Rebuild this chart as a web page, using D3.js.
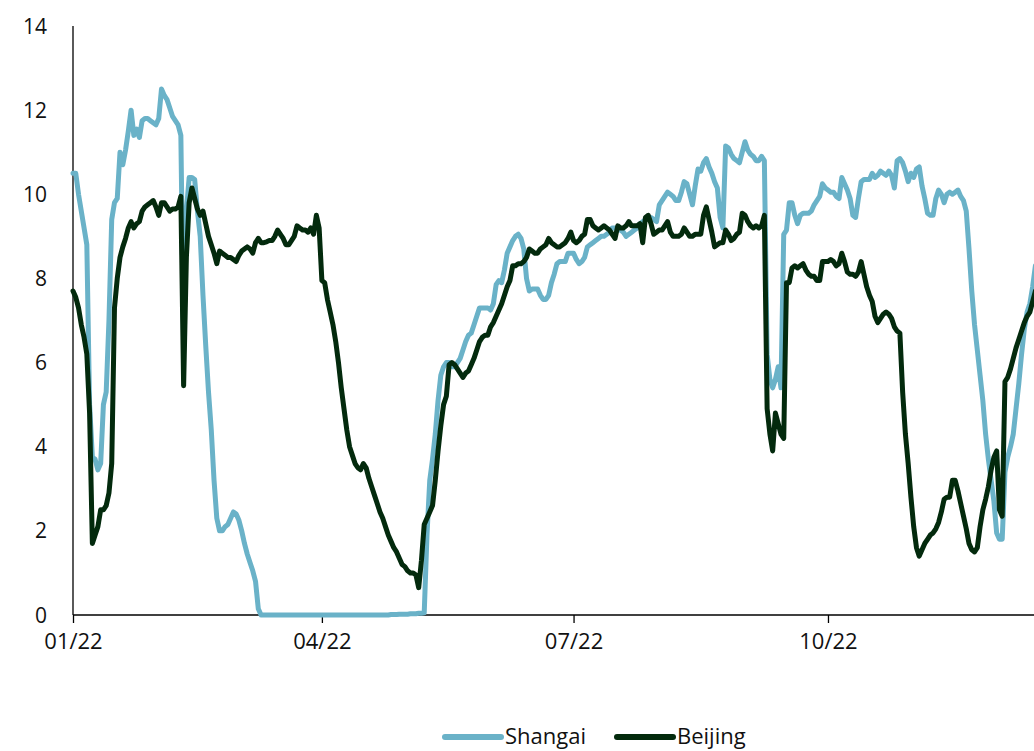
<!DOCTYPE html>
<html><head><meta charset="utf-8">
<script src="https://cdn.jsdelivr.net/npm/d3@7"></script>
<style>body{margin:0;background:#fff}svg text{font-family:"Open Sans",sans-serif;fill:#111}</style>
</head><body><svg id="chart" width="1034" height="751"></svg>
<script>
const seriesNames = ["Shangai", "Beijing"];
const seriesColors = ["#6ab2c8", "#032a0d"];
const startDate = "2022-01-01";
const domainEnd = "2023-01-01";
const yTicks = [0, 2, 4, 6, 8, 10, 12, 14];
const xTickDates = ["2022-01-01", "2022-04-01", "2022-07-01", "2022-10-01"];
const xTickLabels = ["01/22", "04/22", "07/22", "10/22"];

// daily values from 2022-01-01
const shanghai = [
10.5,10.5,10.0,9.6,9.2,8.8,5.0,3.75,3.7,3.45,
3.6,5.0,5.3,7.0,9.4,9.8,9.9,11.0,10.7,11.05,
11.5,12.0,11.4,11.55,11.35,11.75,11.8,11.8,11.75,11.7,
11.65,11.8,12.5,12.35,12.25,12.05,11.85,11.75,11.65,11.4,
6.5,9.6,10.4,10.4,10.35,9.6,9.0,7.6,6.4,5.3,
4.4,3.2,2.3,2.0,2.0,2.1,2.15,2.3,2.45,2.4,
2.25,2.0,1.7,1.45,1.25,1.05,0.8,0.15,0,0,
0,0,0,0,0,0,0,0,0,0,
0,0,0,0,0,0,0,0,0,0,
0,0,0,0,0,0,0,0,0,0,
0,0,0,0,0,0,0,0,0,0,
0,0,0,0,0,0.01,0.01,0.01,0.02,0.02,
0.02,0.02,0.03,0.03,0.03,0.04,0.04,0.05,1.9,3.2,
3.7,4.3,5.1,5.7,5.9,6.0,6.0,5.9,5.9,6.0,
6.1,6.3,6.5,6.65,6.7,6.9,7.1,7.3,7.3,7.3,
7.3,7.25,7.4,7.85,7.95,7.9,8.2,8.6,8.75,8.9,
9.0,9.05,8.95,8.7,8.0,7.7,7.75,7.75,7.75,7.6,
7.5,7.5,7.6,7.9,8.1,8.35,8.4,8.4,8.4,8.6,
8.6,8.6,8.45,8.35,8.4,8.5,8.75,8.8,8.85,8.9,
8.95,9.0,9.0,9.05,9.1,9.2,9.2,9.15,9.15,9.1,
9.0,9.05,9.1,9.15,9.2,9.3,9.35,9.4,9.45,9.45,
9.4,9.35,9.75,9.85,9.95,10.05,10.0,9.95,9.85,9.85,
10.05,10.3,10.25,10.0,9.75,10.2,10.6,10.55,10.75,10.85,
10.65,10.5,10.3,10.15,9.45,9.2,11.15,11.1,10.95,10.85,
10.8,10.75,11.0,11.25,11.05,10.95,10.9,10.8,10.8,10.9,
10.8,6.2,5.6,5.4,5.6,5.9,5.4,9.05,9.15,9.8,
9.8,9.5,9.3,9.5,9.55,9.55,9.55,9.6,9.75,9.85,
9.95,10.25,10.15,10.1,10.05,10.05,9.95,9.9,10.4,10.25,
10.1,9.9,9.5,9.45,9.9,10.3,10.35,10.35,10.35,10.5,
10.4,10.45,10.55,10.5,10.45,10.55,10.45,10.15,10.8,10.85,
10.75,10.55,10.3,10.5,10.4,10.6,10.65,10.2,9.9,9.55,
9.5,9.5,9.9,10.1,10.0,9.8,10.0,10.05,10.0,10.05,
10.1,9.95,9.85,9.6,8.7,7.7,6.9,6.3,5.7,5.1,
4.3,3.7,3.2,2.7,1.95,1.8,1.8,3.4,3.75,4.0,
4.3,4.9,5.5,6.2,6.8,7.2,7.4,7.8,8.3
];
const beijing = [
7.7,7.55,7.3,6.9,6.6,6.2,4.8,1.7,1.9,2.1,
2.5,2.5,2.6,2.9,3.6,7.3,8.0,8.5,8.75,8.95,
9.2,9.35,9.2,9.3,9.35,9.6,9.7,9.75,9.8,9.85,
9.7,9.5,9.8,9.8,9.7,9.6,9.65,9.65,9.7,9.95,
5.45,8.5,9.8,10.15,9.9,9.65,9.5,9.6,9.3,9.0,
8.8,8.6,8.35,8.65,8.6,8.55,8.5,8.5,8.45,8.4,
8.55,8.65,8.7,8.75,8.7,8.6,8.85,8.95,8.85,8.85,
8.87,8.9,8.9,9.0,9.15,9.05,8.95,8.8,8.8,8.9,
9.0,9.25,9.2,9.15,9.15,9.1,9.2,9.05,9.5,9.2,
7.95,7.9,7.5,7.2,6.9,6.5,6.0,5.4,4.9,4.4,
4.0,3.8,3.6,3.5,3.45,3.6,3.5,3.25,3.05,2.85,
2.65,2.45,2.3,2.1,1.9,1.75,1.6,1.5,1.35,1.2,
1.15,1.05,1.0,1.0,0.95,0.65,1.3,2.15,2.3,2.45,
2.6,3.2,3.9,4.5,5.0,5.2,5.95,6.0,5.95,5.85,
5.75,5.65,5.75,5.8,5.95,6.1,6.3,6.5,6.6,6.65,
6.65,6.85,6.95,7.1,7.25,7.4,7.6,7.8,7.95,8.3,
8.3,8.35,8.35,8.4,8.5,8.7,8.65,8.6,8.6,8.7,
8.75,8.8,8.95,8.85,8.8,8.75,8.75,8.8,8.85,8.95,
9.1,8.9,8.85,8.9,9.0,9.05,9.4,9.4,9.25,9.2,
9.15,9.2,9.25,9.2,9.15,9.05,8.95,9.25,9.2,9.2,
9.25,9.35,9.25,9.25,9.25,9.3,8.85,9.45,9.5,9.3,
9.05,9.1,9.15,9.15,9.25,9.35,9.1,9.0,9.0,9.0,
9.05,9.2,9.1,9.0,9.0,9.05,9.05,9.05,9.5,9.7,
9.4,9.1,8.75,8.8,8.85,8.85,9.15,9.05,8.9,8.95,
9.05,9.1,9.55,9.5,9.35,9.25,9.2,9.25,9.2,9.25,
9.5,4.9,4.3,3.9,4.8,4.55,4.3,4.2,7.9,7.9,
8.25,8.3,8.25,8.3,8.35,8.2,8.1,8.05,8.05,7.95,
7.95,8.4,8.4,8.4,8.45,8.4,8.3,8.35,8.6,8.4,
8.15,8.1,8.1,8.05,8.15,8.4,8.1,7.8,7.6,7.45,
7.1,6.95,7.05,7.15,7.2,7.15,7.05,6.85,6.75,6.7,
5.3,4.3,3.6,2.8,2.1,1.6,1.4,1.55,1.7,1.8,
1.9,1.95,2.05,2.2,2.45,2.75,2.8,2.8,3.2,3.2,
2.95,2.65,2.35,2.05,1.7,1.55,1.5,1.6,2.1,2.5,
2.75,3.05,3.45,3.75,3.9,2.5,2.35,5.55,5.65,5.85,
6.1,6.35,6.55,6.75,6.95,7.1,7.2,7.45,7.7
];

const svg = d3.select("#chart");
const parse = d3.utcParse("%Y-%m-%d");
const t0 = parse(startDate);
const x = d3.scaleUtc().domain([t0, parse(domainEnd)]).range([73, 1082.4]);
const y = d3.scaleLinear().domain([0, 14]).range([615, 26]);

// y axis line and labels
svg.append("line").attr("x1", 73).attr("x2", 73).attr("y1", y(14)).attr("y2", y(0))
  .attr("stroke", "#000").attr("stroke-width", 1.3);
svg.selectAll(".ylab").data(yTicks).join("text")
  .attr("x", 47).attr("y", d => y(d)).attr("dy", "0.36em")
  .attr("text-anchor", "end").attr("font-size", 21).text(d => d);

// x axis
const xAxis = d3.axisBottom(x)
  .tickValues(xTickDates.map(parse))
  .tickFormat((d, i) => xTickLabels[i])
  .tickSize(8).tickSizeOuter(0).tickPadding(10);
const gx = svg.append("g").attr("transform", `translate(0,${y(0)})`).call(xAxis);
gx.select(".domain").attr("stroke", "#000").attr("stroke-width", 1.3).attr("d", "M73,0H1034");
gx.selectAll(".tick line").attr("stroke", "#000").attr("stroke-width", 1.3);
gx.selectAll(".tick text").attr("font-size", 22).attr("fill", "#111").attr("font-family", '"Open Sans",sans-serif');

// lines
const series = [shanghai, beijing];
const line = d3.line()
  .x((d, i) => x(d3.utcDay.offset(t0, i)))
  .y(d => y(d))
  .curve(d3.curveLinear);
series.forEach((vals, k) => {
  svg.append("path").datum(vals)
    .attr("fill", "none").attr("stroke", seriesColors[k])
    .attr("stroke-width", 5).attr("stroke-linejoin", "round").attr("stroke-linecap", "round")
    .attr("d", line);
});

// legend
const legendX = [445, 617];
seriesNames.forEach((name, k) => {
  const g = svg.append("g").attr("transform", `translate(${legendX[k]},737)`);
  g.append("line").attr("x1", 0).attr("x2", 56).attr("y1", 0).attr("y2", 0)
    .attr("stroke", seriesColors[k]).attr("stroke-width", 6).attr("stroke-linecap", "round");
  g.append("text").attr("x", 60).attr("y", 0).attr("dy", "0.33em")
    .attr("font-size", 22).text(name);
});
</script>
</body></html>
